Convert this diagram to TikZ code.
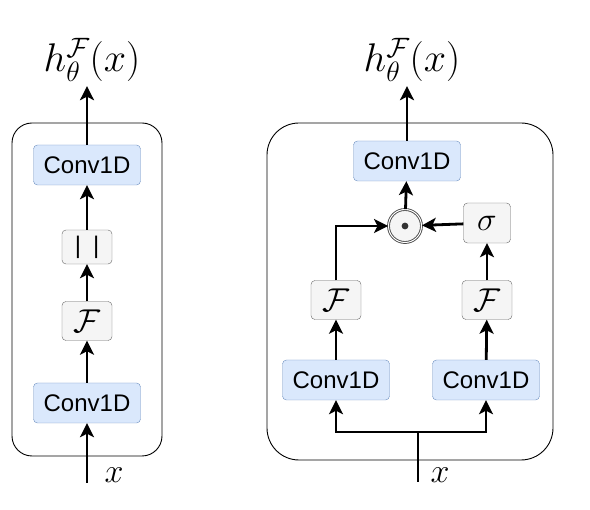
\RequirePackage{fix-cm}
\documentclass[tikz,border=0pt]{standalone}
\usepackage{fontspec}
\setmainfont{Liberation Sans}
\usepackage{amsmath}
\usetikzlibrary{arrows.meta, positioning}

\definecolor{convfill}{HTML}{DAE8FC}
\definecolor{convline}{HTML}{6C8EBF}
\definecolor{opfill}{HTML}{F5F5F5}
\definecolor{opline}{HTML}{666666}

\tikzset{
    conv/.style={draw=convline, fill=convfill, rounded corners=4pt, minimum width=107pt,
        minimum height=40pt, inner sep=0pt, font=\fontsize{24}{28}\selectfont},
    op/.style={draw=opline, fill=opfill, rounded corners=4pt, minimum width=50pt,
        minimum height=39pt, inner sep=0pt, font=\fontsize{33}{38}\selectfont},
    flow/.style={line width=2.8pt, -{Stealth[length=14pt,width=14pt,inset=3.5pt]}},
    panel/.style={draw, line width=0.9pt},
    title/.style={inner sep=4pt, anchor=base, font=\fontsize{40}{46}\selectfont},
    label/.style={inner sep=0pt, anchor=base, font=\fontsize{34}{40}\selectfont},
}

\begin{document}
\begin{tikzpicture}[x=1pt, y=-1pt]
        \useasboundingbox (0,0) rectangle (590,510);
        % Panels:
        \draw [panel, rounded corners=20pt] (12,123) rectangle (162,456);
        \draw [panel, rounded corners=32pt] (267,123) rectangle (553,460);

        % Left block: a plain chain of nodes
        \node [conv] (convL1) at (87,403) {Conv1D};
        \node [op] (fL) at (87,321) {$\mathcal{F}$};
        \node [op, minimum height=34pt, font=\fontsize{24}{28}\selectfont] (cat) at (87,247) {|\hspace{12pt}|};
        \node [conv] (convL2) at (87,165) {Conv1D};
        \node [title] (outL) at (92,72) {$h^{\mathcal{F}}_{\theta}(x)$};
        \coordinate (inL) at (87,483);
        \node [label] (xL) at (114,483) {$x$};

        \draw [flow] (inL) -- (convL1);
        \draw [flow] (convL1) -- (fL);
        \draw [flow] (fL) -- (cat);
        \draw [flow] (cat) -- (convL2);
        \draw [flow] (convL2.north) -- (convL2.north |- outL.south);

        % Right block: two branches joined by a product
        \node [conv] (convA) at (336,380) {Conv1D};
        \node [conv] (convB) at (486,380) {Conv1D};
        \node [op] (fA) at (336,300) {$\mathcal{F}$};
        \node [op] (fB) at (487,300) {$\mathcal{F}$};
        \node [op, minimum width=47pt, minimum height=40pt] (sig) at (487,223) {$\sigma$};
        \node [circle, draw=black!70, line width=0.9pt, double=white, double distance=1pt,
            fill=opfill, minimum size=33pt, inner sep=0pt] (prod) at (405,226) {};
        \fill [black!80] (prod.center) circle (3.4pt);
        \node [conv] (convC) at (407,161) {Conv1D};
        \node [title] (outR) at (412,72) {$h^{\mathcal{F}}_{\theta}(x)$};
        \coordinate (inR) at (418,482);
        \coordinate (split) at (418,432);
        \node [label] (xR) at (440,483) {$x$};

        \draw [line width=2.8pt] (inR) -- (split);
        \draw [flow] (split) -| (convA);
        \draw [flow] (split) -| (convB);
        \draw [flow] (convA) -- (fA);
        \draw [flow] (convB) -- (fB);
        \draw [flow] (fA) |- (prod);
        \draw [flow] (fB) -- (sig);
        \draw [flow] (sig) -- (prod);
        \draw [flow] (prod) -- (convC);
        \draw [flow] (convC.north) -- (convC.north |- outR.south);
    \end{tikzpicture}
\end{document}
